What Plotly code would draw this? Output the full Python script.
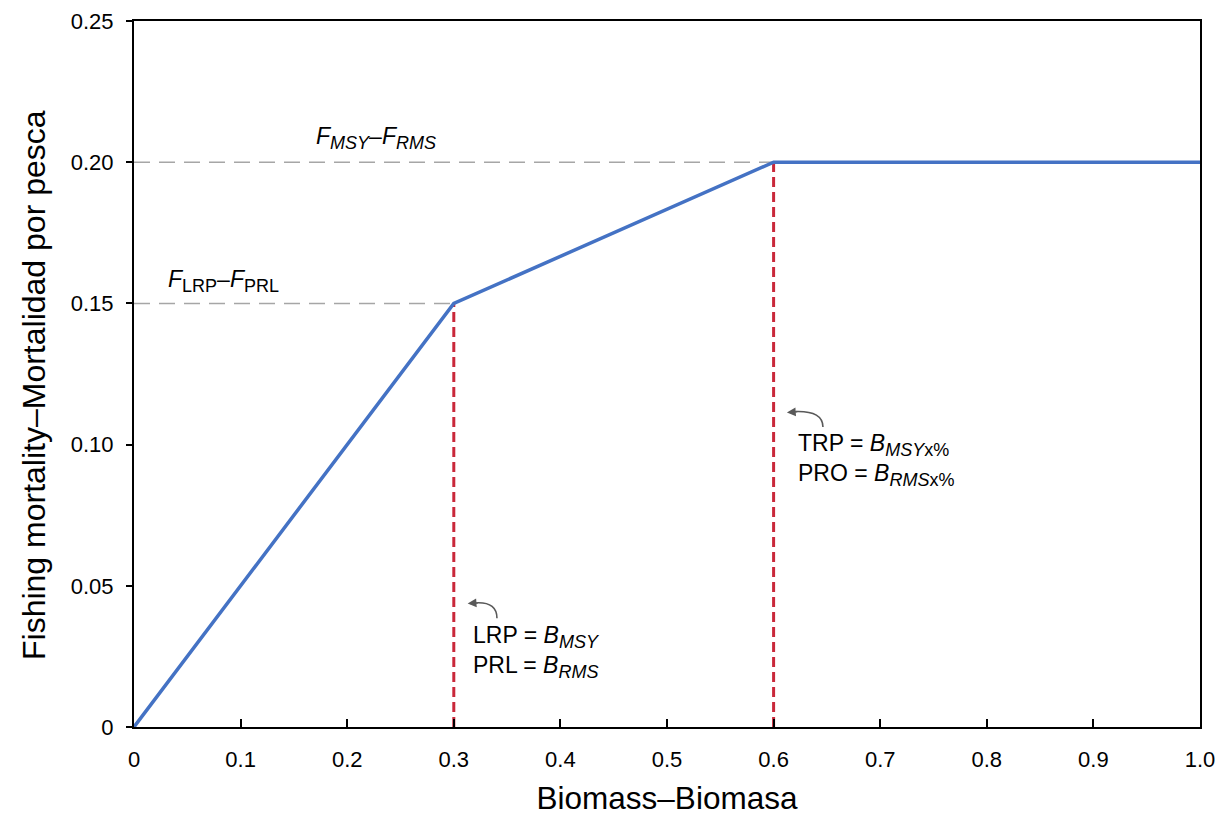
import plotly.graph_objects as go

# Harvest control rule data
biomass = [0, 0.3, 0.6, 1.0]
fishing_mortality = [0, 0.15, 0.2, 0.2]

lrp_b, lrp_f = 0.3, 0.15
trp_b, msy_f = 0.6, 0.2

x_ticks = [0, 0.1, 0.2, 0.3, 0.4, 0.5, 0.6, 0.7, 0.8, 0.9, 1.0]
x_tick_labels = ["0", "0.1", "0.2", "0.3", "0.4", "0.5", "0.6", "0.7", "0.8", "0.9", "1.0"]
y_ticks = [0, 0.05, 0.10, 0.15, 0.20, 0.25]
y_tick_labels = ["0", "0.05", "0.10", "0.15", "0.20", "0.25"]

FONT = "Liberation Sans, Arial, sans-serif"
BLUE = "#4472C4"
RED = "#C9283A"
GREY = "#A6A6A6"
ARROW = "#595959"


def sub(t):
    return '<sub><span style="font-size:18px">' + t + '</span></sub>'


fig = go.Figure()

# grey dashed reference lines
fig.add_trace(go.Scatter(x=[0, lrp_b], y=[lrp_f, lrp_f], mode="lines",
                         line=dict(color=GREY, width=1.5, dash="16px,9px"), hoverinfo="skip"))
fig.add_trace(go.Scatter(x=[0, trp_b], y=[msy_f, msy_f], mode="lines",
                         line=dict(color=GREY, width=1.5, dash="16px,9px"), hoverinfo="skip"))
# red dashed verticals
fig.add_trace(go.Scatter(x=[lrp_b, lrp_b], y=[0, lrp_f], mode="lines",
                         line=dict(color=RED, width=3, dash="10px,5px"), hoverinfo="skip"))
fig.add_trace(go.Scatter(x=[trp_b, trp_b], y=[0, msy_f], mode="lines",
                         line=dict(color=RED, width=3, dash="10px,5px"), hoverinfo="skip"))
# control rule
fig.add_trace(go.Scatter(x=biomass, y=fishing_mortality, mode="lines",
                         line=dict(color=BLUE, width=3.5), hoverinfo="skip"))

# curved arrows
fig.add_shape(type="path", xref="x", yref="y",
              path="M 0.3405,0.0385 Q 0.3405,0.0442 0.322,0.0440",
              line=dict(color=ARROW, width=1.6))
fig.add_annotation(x=0.313, y=0.0437, ax=0.324, ay=0.0440, xref="x", yref="y",
                   axref="x", ayref="y", text="", showarrow=True, arrowhead=2,
                   arrowsize=1.1, arrowwidth=1.6, arrowcolor=ARROW)
fig.add_shape(type="path", xref="x", yref="y",
              path="M 0.6463,0.1062 Q 0.6463,0.1119 0.6215,0.1117",
              line=dict(color=ARROW, width=1.6))
fig.add_annotation(x=0.6125, y=0.1114, ax=0.6235, ay=0.1117, xref="x", yref="y",
                   axref="x", ayref="y", text="", showarrow=True, arrowhead=2,
                   arrowsize=1.1, arrowwidth=1.6, arrowcolor=ARROW)

# text annotations
txt_font = dict(family=FONT, size=23, color="black")
fig.add_annotation(x=0.316, y=0.0378, xref="x", yref="y", xanchor="left", yanchor="top",
                   showarrow=False, align="left", font=txt_font,
                   text="LRP = <i>B</i>" + sub("<i>MSY</i>") + "<br>PRL = <i>B</i>" + sub("<i>RMS</i>"))
fig.add_annotation(x=0.621, y=0.1060, xref="x", yref="y", xanchor="left", yanchor="top",
                   showarrow=False, align="left", font=txt_font,
                   text="TRP = <i>B</i>" + sub("<i>MSY</i>x%") + "<br>PRO = <i>B</i>" + sub("<i>RMS</i>x%"))
fig.add_annotation(x=0.169, y=0.2085, xref="x", yref="y", xanchor="left", yanchor="middle",
                   showarrow=False, font=txt_font,
                   text="<i>F</i>" + sub("<i>MSY</i>") + "–<i>F</i>" + sub("<i>RMS</i>"))
fig.add_annotation(x=0.030, y=0.1578, xref="x", yref="y", xanchor="left", yanchor="middle",
                   showarrow=False, font=txt_font,
                   text="<i>F</i>" + sub("LRP") + "–<i>F</i>" + sub("PRL"))

# y-axis title (placed as rotated annotation, slightly below plot centre as in reference)
fig.add_annotation(x=0, y=0.5, xref="paper", yref="paper", xanchor="center", yanchor="middle",
                   xshift=-100, yshift=-11, textangle=-90, showarrow=False,
                   font=dict(family=FONT, size=32, color="black"),
                   text="Fishing mortality–Mortalidad por pesca")

# page has an 8px body margin, so the figure is offset by 8px
fig.update_layout(
    width=1219, height=812,
    margin=dict(l=126, r=27, t=13, b=93),
    paper_bgcolor="white", plot_bgcolor="white",
    showlegend=False,
    font=dict(family=FONT, size=22, color="black"),
)
fig.update_xaxes(
    range=[0, 1], tickvals=x_ticks, ticktext=x_tick_labels, automargin=False,
    showgrid=False, zeroline=False, showline=True, mirror=True,
    linecolor="black", linewidth=2, ticks="inside", ticklen=8, tickwidth=2,
    tickcolor="black", tickfont=dict(size=22), ticklabelstandoff=12,
    title=dict(text="Biomass–Biomasa", font=dict(size=31.5), standoff=16),
)
fig.update_yaxes(
    range=[0, 0.25], tickvals=y_ticks, ticktext=y_tick_labels, automargin=False,
    showgrid=False, zeroline=False, showline=True, mirror=True,
    linecolor="black", linewidth=2, ticks="outside", ticklen=6, tickwidth=2,
    tickcolor="black", tickfont=dict(size=22), ticklabelstandoff=8,
)

fig.write_html("out.html")
